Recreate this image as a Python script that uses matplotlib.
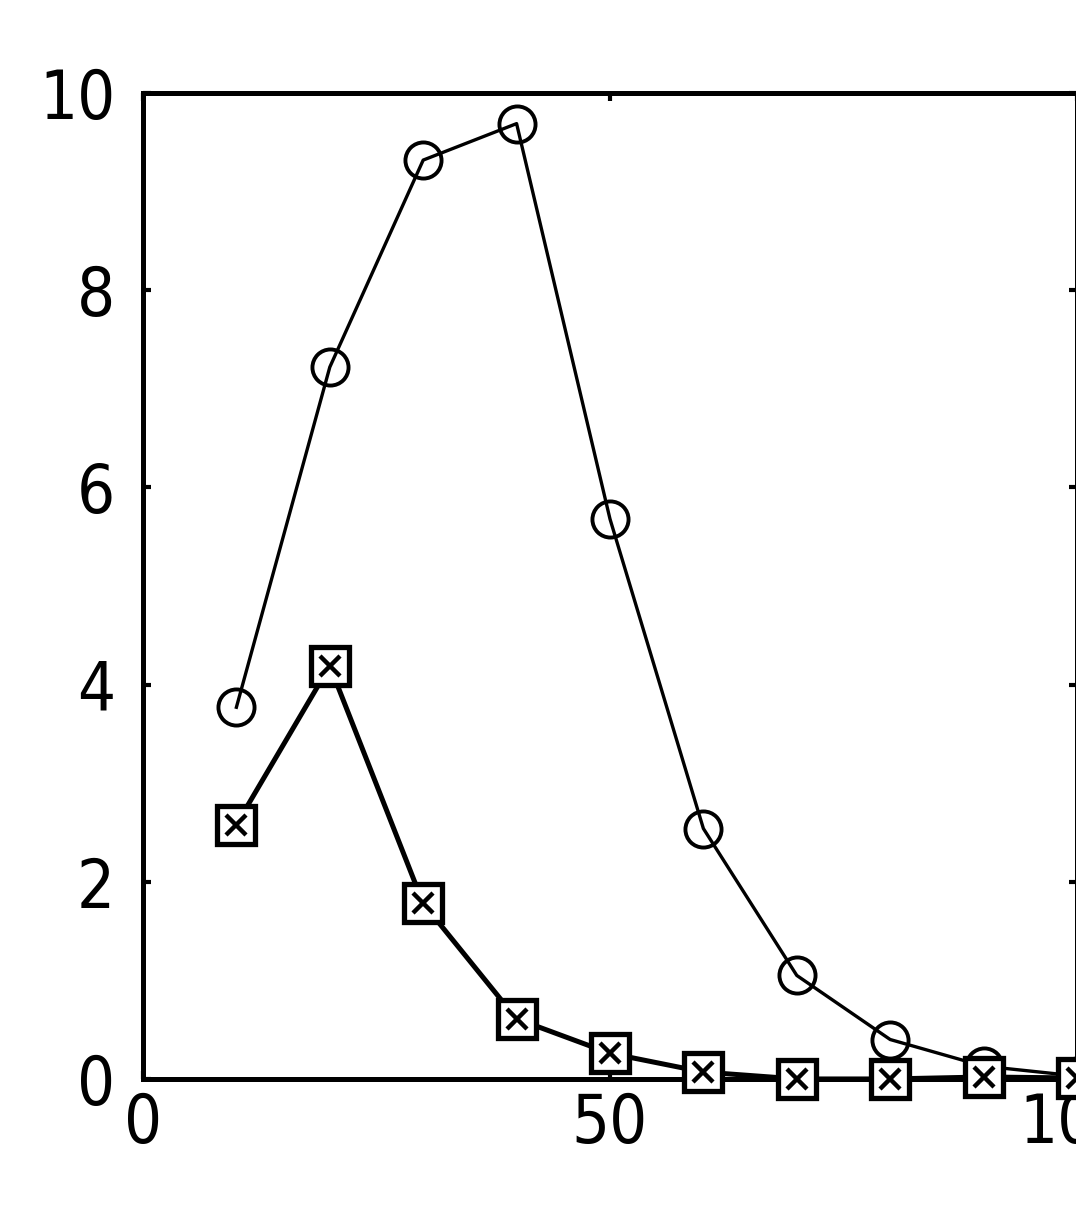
import matplotlib
matplotlib.use("Agg")
import matplotlib.pyplot as plt
from matplotlib import font_manager

x_vals = [10, 20, 30, 40, 50, 60, 70, 80, 90, 100]
circle_vals = [3.77, 7.22, 9.32, 9.69, 5.68, 2.54, 1.05, 0.40, 0.13, 0.03]
square_vals = [2.58, 4.19, 1.78, 0.61, 0.26, 0.07, 0.0, 0.0, 0.02, 0.01]
x_ticks = [0, 50, 100]
x_ticklabels = ["0", "50", "100"]
y_ticks = [0, 2, 4, 6, 8, 10]
y_ticklabels = ["0", "2", "4", "6", "8", "10"]

# find a narrow font if one is installed
cands = []
for f in font_manager.fontManager.ttflist:
    nm = f.name.lower()
    fn = f.fname.lower()
    if f.style != "normal" or "bold" in fn or "oblique" in fn or "italic" in fn:
        continue
    if ("narrow" in nm or "condensed" in nm or "narrow" in fn or "condensed" in fn
            or str(f.stretch) in ("condensed", "semi-condensed", "extra-condensed")):
        cands.append(f)
if cands:
    pref = sorted(cands, key=lambda f: (0 if "liberation" in f.fname.lower() else
                                        1 if "dejavu" in f.fname.lower() else 2,
                                        0 if f.weight in (400, "normal", "regular") else 1))
    fp = font_manager.FontProperties(fname=pref[0].fname)
else:
    fp = font_manager.FontProperties(family="DejaVu Sans")
fp.set_size(48)

fig = plt.figure(figsize=(10.76, 12.10), dpi=100)
ax = fig.add_axes([0.1329, 0.1083, 0.8680, 0.8148])

ax.plot(x_vals, circle_vals, color="black", lw=2.4, marker="o", ms=26,
        mfc="none", mec="black", mew=2.8, clip_on=False, zorder=5)
ax.plot(x_vals, square_vals, color="black", lw=3.6, marker="s", ms=27,
        mfc="white", mec="black", mew=3.8, clip_on=False, zorder=6)
ax.plot(x_vals, square_vals, ls="none", marker="x", ms=14, mec="black",
        mew=3.2, clip_on=False, zorder=7)

ax.set_xlim(0, 100)
ax.set_ylim(0, 10)
ax.set_xticks(x_ticks)
ax.set_xticklabels(x_ticklabels, fontproperties=fp)
ax.set_yticks(y_ticks)
ax.set_yticklabels(y_ticklabels, fontproperties=fp)
for s in ax.spines.values():
    s.set_linewidth(3.6)
ax.tick_params(direction="in", length=6, width=3, top=True, right=True)
ax.tick_params(axis="y", pad=20)
ax.tick_params(axis="x", pad=9)

fig.savefig("out.png", dpi=100)
